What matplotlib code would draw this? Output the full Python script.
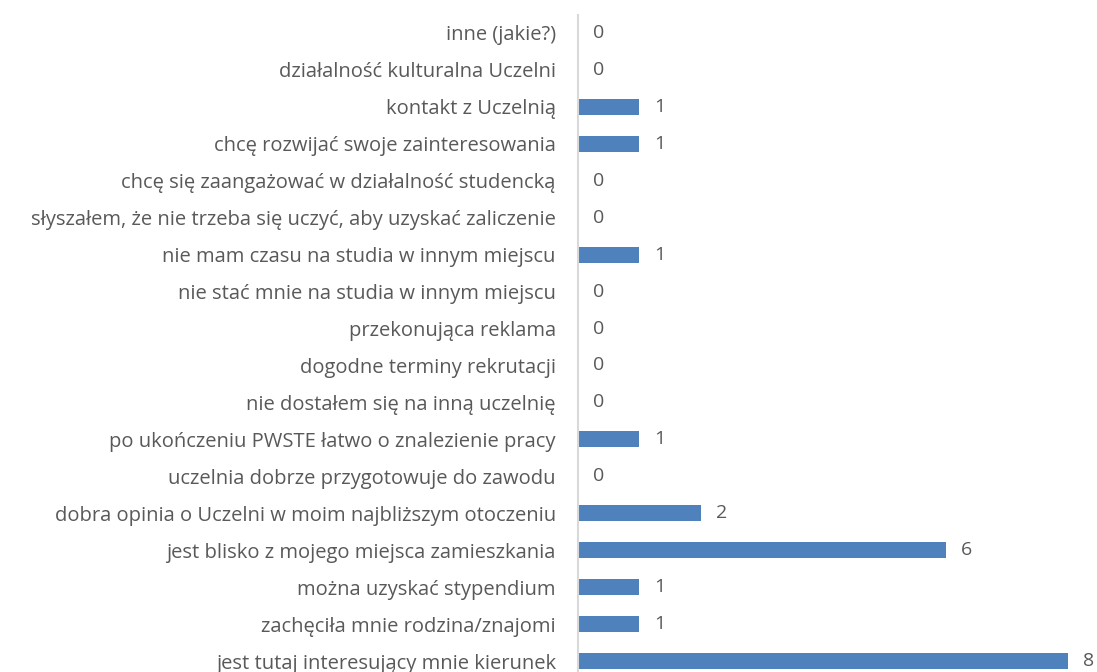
import matplotlib.pyplot as plt

# categories listed bottom to top
kategorie = [
    "jest tutaj interesujący mnie kierunek",
    "zachęciła mnie rodzina/znajomi",
    "można uzyskać stypendium",
    "jest blisko z mojego miejsca zamieszkania",
    "dobra opinia o Uczelni w moim najbliższym otoczeniu",
    "uczelnia dobrze przygotowuje do zawodu",
    "po ukończeniu PWSTE łatwo o znalezienie pracy",
    "nie dostałem się na inną uczelnię",
    "dogodne terminy rekrutacji",
    "przekonująca reklama",
    "nie stać mnie na studia w innym miejscu",
    "nie mam czasu na studia w innym miejscu",
    "słyszałem, że nie trzeba się uczyć, aby uzyskać zaliczenie",
    "chcę się zaangażować w działalność studencką",
    "chcę rozwijać swoje zainteresowania",
    "kontakt z Uczelnią",
    "działalność kulturalna Uczelni",
    "inne (jakie?)",
]
wartosci = [8, 1, 1, 6, 2, 0, 1, 0, 0, 0, 0, 1, 0, 0, 1, 1, 0, 0]

plt.rcParams['font.family'] = ['Open Sans', 'DejaVu Sans']
tekst = '#595959'

fig = plt.figure(figsize=(10.97, 6.72), dpi=100)
ax = fig.add_axes([578 / 1097, 1 - 679.5 / 672, 1 - 578 / 1097, 665 / 672])

y = list(range(len(kategorie)))
ax.barh(y, wartosci, height=0.43, color='#4F81BD')
for yi, v in zip(y, wartosci):
    ax.annotate(str(v), (v, yi), xytext=(11, 0), textcoords='offset points',
                va='center', ha='left', fontsize=14, color=tekst,
                annotation_clip=False)

ax.set_yticks(y)
ax.set_yticklabels(kategorie, fontsize=14.5, color=tekst)
ax.set_ylim(-0.5, len(kategorie) - 0.5)
ax.set_xlim(0, (1097 - 578) / 61.25)
ax.set_xticks([])
ax.tick_params(axis='y', length=0, pad=16)
for s in ['top', 'right', 'bottom']:
    ax.spines[s].set_visible(False)
ax.spines['left'].set_color('#d9d9d9')
ax.spines['left'].set_linewidth(1.5)

fig.savefig('out.png', dpi=100)
